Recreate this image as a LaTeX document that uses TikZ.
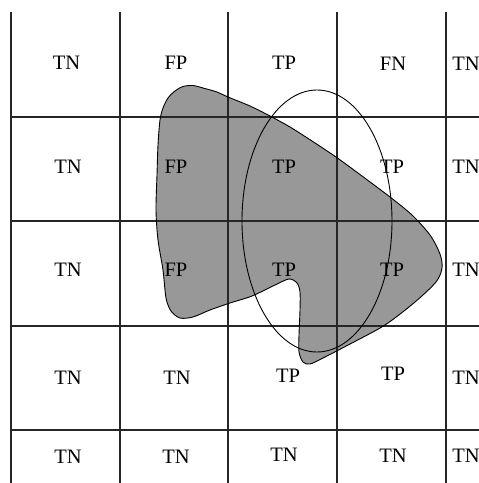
\documentclass[tikz,border=0pt]{standalone}
\usepackage{fontspec}
\setmainfont{Liberation Serif}
\begin{document}
\begin{tikzpicture}[x=1pt,y=-1pt,
  gridline/.style={line width=1.1pt,black!85},
  lbl/.style={inner sep=0pt,font=\fontsize{20.5}{24}\selectfont},
  blobfill/.style={fill={rgb,255:red,152;green,152;blue,152}},
  outline/.style={line width=0.9pt,black}]
\useasboundingbox (0,0) rectangle (479,483);
% blob
\def\blobpath{plot[smooth cycle,tension=0.5] coordinates {
 (160,120) (163,108) (168,98) (175,91) (183,86.5) (193,85.5) (203,88) (217,92)
 (228,97) (250,106) (270,116) (290,127) (312,141) (336,157) (362,176) (390,197)
 (412,215) (430,235) (440,254) (442,268) (436,282) (415,302) (385,325) (350,344)
 (323,358) (310,364) (303,362) (299,352) (299,335) (300,310) (300,292) (297,283)
 (289,279) (275,285) (252,296) (230,303) (210,310) (193,317) (180,318) (171,311)
 (166,298) (163,270) (158,240) (156,210) (157,175) (158,145)}}
\fill[blobfill] \blobpath;
% grid
\foreach \x in {11,120,228,337,446} \draw[gridline] (\x,12) -- (\x,483);
\foreach \y in {117,221,326,430} \draw[gridline] (11,\y) -- (479,\y);
\draw[outline] \blobpath;
\draw[outline] (317,221) ellipse [x radius=75, y radius=131];
% labels
\node[lbl] (r1c1) at (66.5,62.5) {TN};
\node[lbl] (r1c2) at (176,62.5) {FP};
\node[lbl] (r1c3) at (284,62.5) {TP};
\node[lbl] (r1c4) at (393,64) {FN};
\node[lbl] (r1c5) at (466,64) {TN};
\node[lbl] (r2c1) at (68,167) {TN};
\node[lbl] (r2c2) at (176,167) {FP};
\node[lbl] (r2c3) at (284,167) {TP};
\node[lbl] (r2c4) at (392,167) {TP};
\node[lbl] (r2c5) at (466,167) {TN};
\node[lbl] (r3c1) at (68,270) {TN};
\node[lbl] (r3c2) at (176,270) {FP};
\node[lbl] (r3c3) at (284,270) {TP};
\node[lbl] (r3c4) at (392,270) {TP};
\node[lbl] (r3c5) at (466,270) {TN};
\node[lbl] (r4c1) at (68,377.5) {TN};
\node[lbl] (r4c2) at (177,377.5) {TN};
\node[lbl] (r4c3) at (288,376) {TP};
\node[lbl] (r4c4) at (393,374) {TP};
\node[lbl] (r4c5) at (466,377.5) {TN};
\node[lbl] (r5c1) at (68,456.5) {TN};
\node[lbl] (r5c2) at (176,456.5) {TN};
\node[lbl] (r5c3) at (284,455) {TN};
\node[lbl] (r5c4) at (393,456) {TN};
\node[lbl] (r5c5) at (466,456) {TN};
\end{tikzpicture}
\end{document}
